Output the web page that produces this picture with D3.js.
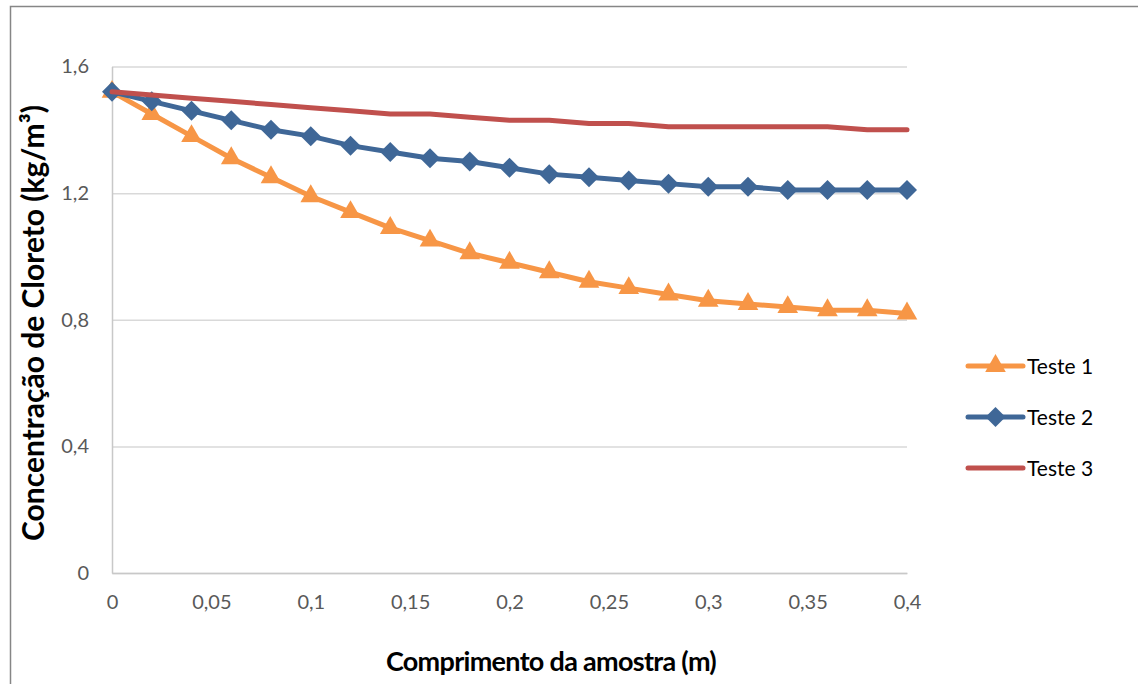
<!DOCTYPE html>
<html>
<head>
<meta charset="utf-8">
<script src="https://cdn.jsdelivr.net/npm/d3@7"></script>
<style>
  body { margin: 0; background: #fff; }
  text { font-family: Lato, "Open Sans", sans-serif; }
</style>
</head>
<body>
<div id="chart"></div>
<script>
var svgWidth = 1138;
var svgHeight = 684;

// data
var comprimento = [0, 0.02, 0.04, 0.06, 0.08, 0.1, 0.12, 0.14, 0.16, 0.18, 0.2,
  0.22, 0.24, 0.26, 0.28, 0.3, 0.32, 0.34, 0.36, 0.38, 0.4];
var teste1 = [1.52, 1.45, 1.38, 1.31, 1.25, 1.19, 1.14, 1.09, 1.05, 1.01, 0.98,
  0.95, 0.92, 0.90, 0.88, 0.86, 0.85, 0.84, 0.83, 0.83, 0.82];
var teste2 = [1.52, 1.49, 1.46, 1.43, 1.40, 1.38, 1.35, 1.33, 1.31, 1.30, 1.28,
  1.26, 1.25, 1.24, 1.23, 1.22, 1.22, 1.21, 1.21, 1.21, 1.21];
var teste3 = [1.52, 1.51, 1.50, 1.49, 1.48, 1.47, 1.46, 1.45, 1.45, 1.44, 1.43,
  1.43, 1.42, 1.42, 1.41, 1.41, 1.41, 1.41, 1.41, 1.40, 1.40];
var seriesNames = ["Teste 1", "Teste 2", "Teste 3"];
var xTicks = [0, 0.05, 0.1, 0.15, 0.2, 0.25, 0.3, 0.35, 0.4];
var yTicks = [0, 0.4, 0.8, 1.2, 1.6];

var colors = ["#F79646", "#3F6797", "#C0504D"];

var margin = { top: 66.5, left: 112 };
var width = 907 - 112;
var height = 573 - 66.5;

var fmt = function (d) { return String(d).replace(".", ","); };

// marker shapes: triangle, diamond (square turned 45 degrees), none
function markerPath(s) {
  if (s === 0) return d3.symbol().type(d3.symbolTriangle).size(185)();
  if (s === 1) return d3.symbol().type(d3.symbolSquare).size(200)();
  return null;
}
var markerRotate = [0, 45, 0];

var svg = d3.select("#chart")
  .append("svg")
  .attr("width", svgWidth)
  .attr("height", svgHeight);

// outer border (right and bottom edges fall outside the picture)
svg.append("rect")
  .attr("x", 10.5)
  .attr("y", 6.5)
  .attr("width", 1200)
  .attr("height", 800)
  .attr("fill", "none")
  .attr("stroke", "#868686")
  .attr("stroke-width", 1.5);

var chartGroup = svg.append("g")
  .attr("transform", `translate(${margin.left}, ${margin.top})`);

var xScale = d3.scaleLinear().domain([0, 0.4]).range([0, width]);
var yScale = d3.scaleLinear().domain([0, 1.6]).range([height, 0]);

// gridlines
chartGroup.append("g")
  .call(d3.axisLeft(yScale).tickValues(yTicks).tickSize(-width).tickFormat(""))
  .call(g => g.select(".domain").remove())
  .selectAll("line")
  .attr("stroke", "#d9d9d9")
  .attr("stroke-width", 1.5);

// y axis
var leftAxis = chartGroup.append("g")
  .call(d3.axisLeft(yScale).tickValues(yTicks).tickSize(0).tickPadding(23).tickFormat(fmt));
leftAxis.select(".domain").attr("stroke", "#c8c8c8").attr("stroke-width", 1.5);
leftAxis.selectAll("text")
  .attr("font-size", "20px")
  .attr("fill", "#595959")
  .attr("font-family", "Lato, sans-serif");

// x axis
var bottomAxis = chartGroup.append("g")
  .attr("transform", `translate(0,${height})`)
  .call(d3.axisBottom(xScale).tickValues(xTicks).tickSize(0).tickPadding(22).tickFormat(fmt));
bottomAxis.select(".domain").attr("stroke", "#c8c8c8").attr("stroke-width", 1.5);
bottomAxis.selectAll("text")
  .attr("font-size", "20px")
  .attr("fill", "#595959")
  .attr("font-family", "Lato, sans-serif");

var allSeries = [teste1, teste2, teste3];

var line = d3.line()
  .x((d, i) => xScale(comprimento[i]))
  .y(d => yScale(d));

// Teste 1 at the back, Teste 3 on top
[0, 1, 2].forEach(function (s) {
  var g = chartGroup.append("g");
  g.append("path")
    .datum(allSeries[s])
    .attr("d", line)
    .attr("fill", "none")
    .attr("stroke", colors[s])
    .attr("stroke-width", 5)
    .attr("stroke-linejoin", "round")
    .attr("stroke-linecap", "round");
  if (markerPath(s)) {
    g.selectAll("path.mark")
      .data(allSeries[s])
      .enter()
      .append("path")
      .attr("class", "mark")
      .attr("d", markerPath(s))
      .attr("transform", (d, i) => `translate(${xScale(comprimento[i])},${yScale(d)}) rotate(${markerRotate[s]})`)
      .attr("fill", colors[s]);
  }
});

// axis titles
svg.append("text")
  .attr("x", 551)
  .attr("y", 671)
  .attr("text-anchor", "middle")
  .attr("font-size", "27px")
  .attr("letter-spacing", "-0.7px")
  .attr("font-weight", "bold")
  .attr("fill", "#000")
  .text("Comprimento da amostra (m)");

svg.append("text")
  .attr("transform", "translate(44, 323) rotate(-90)")
  .attr("text-anchor", "middle")
  .attr("font-size", "30px")
  .attr("font-weight", "bold")
  .attr("fill", "#000")
  .text("Concentração de Cloreto (kg/m³)");

// legend
var legend = svg.append("g")
  .attr("transform", "translate(968, 366)");

seriesNames.forEach(function (name, i) {
  var row = legend.append("g")
    .attr("transform", `translate(0, ${i * 51})`);
  row.append("line")
    .attr("x1", 0).attr("x2", 55)
    .attr("stroke", colors[i])
    .attr("stroke-width", 5)
    .attr("stroke-linecap", "round");
  if (markerPath(i)) {
    row.append("path")
      .attr("d", markerPath(i))
      .attr("transform", `translate(27.5,0) rotate(${markerRotate[i]})`)
      .attr("fill", colors[i]);
  }
  row.append("text")
    .attr("x", 59)
    .attr("y", 7.5)
    .attr("font-size", "21px")
    .attr("fill", "#000")
    .text(name);
});
</script>
</body>
</html>
